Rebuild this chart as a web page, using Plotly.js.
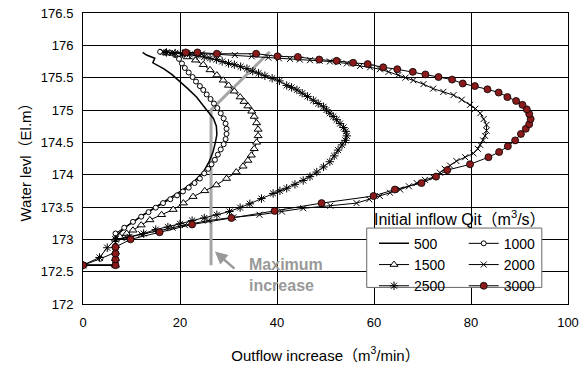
<!DOCTYPE html>
<html>
<head>
<meta charset="utf-8">
<script src="https://cdn.plot.ly/plotly-3.0.1.min.js"></script>
<style>html,body{margin:0;padding:0;background:#fff;}#chart{width:586px;height:367px;}</style>
</head>
<body>
<div id="chart"></div>
<script>
// Initial inflow Qit series (m3/s)
const seriesNames = ['500', '1000', '1500', '2000', '2500', '3000'];

const q500X = [0, 6.7, 6.7, 9.0, 12.0, 15.0, 18.0, 20.5, 23.0, 24.8, 26.0, 26.8, 27.3, 27.6, 27.5, 26.9, 25.5, 23.4, 21.6, 20.0, 18.3, 16.6, 14.4, 14.8, 13.1, 12.3];
const q500Y = [172.6, 172.6, 173.05, 173.2, 173.36, 173.5, 173.64, 173.76, 173.9, 174.04, 174.2, 174.35, 174.5, 174.62, 174.75, 174.87, 175.0, 175.2, 175.33, 175.44, 175.55, 175.64, 175.73, 175.8, 175.85, 175.89];

const q1000X = [0, 3.6, 6.7, 6.7, 6.7, 6.7, 8.5, 10.3, 12.0, 13.5, 15.0, 16.5, 18.0, 19.4, 20.6, 21.8, 23.0, 24.1, 25.0, 25.8, 26.5, 27.2, 27.8, 28.4, 29.0, 29.4, 29.6, 29.6, 29.4, 29.0, 28.4, 27.7, 27.0, 26.3, 25.5, 24.8, 24.1, 23.3, 22.6, 21.8, 21.0, 20.4, 19.8, 19.0, 18.0, 17.0, 15.9];
const q1000Y = [172.6, 172.7, 172.8, 172.9, 173.0, 173.09, 173.18, 173.27, 173.35, 173.42, 173.49, 173.56, 173.62, 173.68, 173.74, 173.8, 173.87, 173.94, 174.02, 174.09, 174.16, 174.23, 174.31, 174.39, 174.47, 174.55, 174.63, 174.71, 174.79, 174.87, 174.95, 175.03, 175.1, 175.17, 175.24, 175.31, 175.37, 175.44, 175.51, 175.58, 175.65, 175.72, 175.79, 175.85, 175.88, 175.89, 175.9];

const q1500X = [0, 6.7, 6.7, 6.7, 6.7, 6.7, 7.6, 9.0, 10.3, 12.0, 13.8, 16.2, 18.6, 20.7, 22.7, 25.1, 27.5, 29.6, 31.6, 33.0, 34.0, 34.7, 35.3, 35.8, 36.1, 36.1, 35.8, 35.3, 34.8, 34.0, 33.2, 32.4, 31.2, 30.0, 28.9, 27.6, 26.2, 24.8, 23.2, 21.5, 19.5, 17.2];
const q1500Y = [172.6, 172.6, 172.7, 172.8, 172.9, 173.0, 173.04, 173.09, 173.14, 173.22, 173.3, 173.38, 173.46, 173.56, 173.66, 173.75, 173.84, 173.94, 174.04, 174.13, 174.22, 174.3, 174.4, 174.5, 174.6, 174.7, 174.8, 174.9, 174.98, 175.06, 175.13, 175.2, 175.29, 175.38, 175.46, 175.54, 175.62, 175.7, 175.77, 175.82, 175.86, 175.88];

const q2000X = [0, 6.7, 6.7, 6.7, 9.0, 12.0, 15.5, 18.5, 21.0, 25.8, 31.0, 36.4, 41.0, 45.4, 51.0, 56.4, 59.0, 61.2, 63.3, 65.4, 67.2, 68.8, 70.5, 72.2, 73.6, 74.6, 75.7, 77.0, 78.8, 80.5, 81.4, 81.9, 82.5, 82.9, 83.2, 83.2, 82.6, 81.9, 80.9, 79.8, 78.1, 76.4, 74.3, 72.2, 70.2, 68.1, 66.5, 65.0, 63.0, 61.2, 59.2, 57.1, 54.4, 52.6, 50.9, 48.8, 46.8, 44.7, 42.7, 40.4, 38.2, 34.8, 31.3, 28.0, 24.5, 21.0, 18.5, 16.5];
const q2000Y = [172.6, 172.6, 172.8, 173.0, 173.02, 173.08, 173.13, 173.18, 173.22, 173.29, 173.34, 173.38, 173.43, 173.48, 173.52, 173.56, 173.62, 173.67, 173.72, 173.77, 173.82, 173.87, 173.92, 173.96, 174.03, 174.09, 174.14, 174.21, 174.27, 174.33, 174.4, 174.46, 174.53, 174.6, 174.68, 174.77, 174.86, 174.95, 175.02, 175.08, 175.16, 175.23, 175.28, 175.33, 175.4, 175.46, 175.5, 175.54, 175.59, 175.63, 175.66, 175.68, 175.72, 175.74, 175.75, 175.76, 175.77, 175.78, 175.79, 175.8, 175.81, 175.83, 175.85, 175.86, 175.87, 175.88, 175.89, 175.9];

const q2500X = [0, 3.4, 5.0, 6.7, 9.6, 12.5, 15.0, 17.5, 20.0, 22.5, 25.0, 27.6, 30.2, 32.4, 34.4, 36.8, 39.2, 40.6, 42.0, 43.7, 45.4, 46.8, 48.2, 49.6, 50.9, 51.8, 52.6, 53.4, 54.1, 54.4, 54.2, 53.7, 53.0, 52.3, 51.6, 50.9, 50.2, 49.6, 48.5, 47.5, 46.3, 45.2, 44.1, 43.0, 42.0, 40.5, 39.0, 37.5, 36.2, 35.0, 33.8, 32.5, 31.2, 30.0, 28.7, 27.5, 26.2, 25.0, 23.5, 22.0, 20.5, 19.0, 17.2];
const q2500Y = [172.6, 172.72, 172.87, 173.0, 173.04, 173.09, 173.15, 173.19, 173.24, 173.29, 173.33, 173.38, 173.43, 173.49, 173.55, 173.63, 173.71, 173.75, 173.79, 173.85, 173.91, 173.97, 174.04, 174.12, 174.2, 174.29, 174.38, 174.46, 174.53, 174.6, 174.67, 174.73, 174.79, 174.85, 174.9, 174.95, 175.0, 175.05, 175.1, 175.15, 175.21, 175.26, 175.31, 175.35, 175.38, 175.45, 175.49, 175.53, 175.57, 175.6, 175.64, 175.67, 175.7, 175.72, 175.75, 175.78, 175.8, 175.82, 175.84, 175.86, 175.87, 175.88, 175.89];

const q3000X = [0, 6.7, 6.7, 6.7, 6.7, 9.8, 15.8, 22.5, 30.6, 39.5, 49.2, 59.9, 64.3, 69.8, 72.8, 75.1, 79.8, 83.6, 85.8, 87.6, 89.1, 90.3, 91.3, 92.0, 92.3, 92.0, 91.5, 90.6, 89.3, 87.5, 85.7, 83.4, 80.8, 78.3, 76.1, 73.3, 70.6, 68.0, 64.8, 61.9, 58.7, 55.7, 52.3, 48.7, 44.3, 40.1, 35.7, 27.6, 23.6, 21.2];
const q3000Y = [172.6, 172.6, 172.69, 172.78, 172.88, 173.0, 173.11, 173.23, 173.33, 173.44, 173.56, 173.67, 173.77, 173.87, 173.97, 174.07, 174.16, 174.27, 174.35, 174.44, 174.53, 174.63, 174.71, 174.78, 174.86, 174.94, 175.01, 175.08, 175.14, 175.2, 175.27, 175.32, 175.37, 175.41, 175.47, 175.51, 175.55, 175.59, 175.63, 175.66, 175.71, 175.73, 175.76, 175.78, 175.82, 175.83, 175.87, 175.87, 175.89, 175.89];

// "Maximum increase" locus
const maxIncX = [26.4, 26.4, 38.5];
const maxIncY = [172.6, 175.0, 175.9];

const xTicks = [0, 20, 40, 60, 80, 100];
const yTicks = [172, 172.5, 173, 173.5, 174, 174.5, 175, 175.5, 176, 176.5];

const FONT = 'Liberation Sans, Arial, Noto Sans CJK JP, sans-serif';

const traces = [
  {x: maxIncX, y: maxIncY, mode: 'lines', line: {color: '#a6a6a6', width: 3}, showlegend: false, hoverinfo: 'skip'},
  {x: q500X, y: q500Y, name: seriesNames[0], mode: 'lines', line: {color: '#000', width: 1.5}, legend: 'legend'},
  {x: q1000X, y: q1000Y, name: seriesNames[1], mode: 'lines+markers', line: {color: '#000', width: 1},
   marker: {symbol: 'circle', size: 5, color: '#fff', line: {color: '#000', width: 1}}, legend: 'legend2'},
  {x: q1500X, y: q1500Y, name: seriesNames[2], mode: 'lines+markers', line: {color: '#000', width: 1},
   marker: {symbol: 'triangle-up', size: 7, color: '#fff', line: {color: '#000', width: 1}}, legend: 'legend'},
  {x: q2000X, y: q2000Y, name: seriesNames[3], mode: 'lines+markers', line: {color: '#000', width: 1},
   marker: {symbol: 'x-thin-open', size: 6, color: '#000', line: {color: '#000', width: 1}}, legend: 'legend2'},
  {x: q2500X, y: q2500Y, name: seriesNames[4], mode: 'lines+markers', line: {color: '#000', width: 1},
   marker: {symbol: 'asterisk-open', size: 7, color: '#000', line: {color: '#000', width: 1}}, legend: 'legend'},
  {x: q3000X, y: q3000Y, name: seriesNames[5], mode: 'lines+markers', line: {color: '#000', width: 1},
   marker: {symbol: 'circle', size: 7, color: '#8b1a1a', line: {color: '#000', width: 0.8}}, legend: 'legend2'}
];

const legendCommon = {
  orientation: 'v', xanchor: 'left', yanchor: 'top', bgcolor: 'rgba(0,0,0,0)',
  borderwidth: 0, font: {family: FONT, size: 14, color: '#000'}, tracegroupgap: 0, itemwidth: 30
};

const layout = {
  width: 586, height: 367,
  margin: {l: 83, r: 18, t: 13, b: 63},
  paper_bgcolor: '#fff', plot_bgcolor: '#fff',
  font: {family: FONT, color: '#000', size: 13},
  xaxis: {
    range: [0, 100], tickvals: xTicks, showgrid: true, gridcolor: '#000', gridwidth: 1,
    zeroline: false, showline: true, linecolor: '#000', linewidth: 1, mirror: true,
    ticks: 'inside', ticklen: 4, tickcolor: '#000', ticklabelstandoff: 6,
    tickfont: {family: FONT, size: 13, color: '#000'},
    title: {text: 'Outflow increase（m<sup>3</sup>/min）', standoff: 21, font: {family: FONT, size: 15, color: '#000'}}
  },
  yaxis: {
    range: [172, 176.5], tickvals: yTicks, showgrid: true, gridcolor: '#000', gridwidth: 1,
    zeroline: false, showline: true, linecolor: '#000', linewidth: 1, mirror: true,
    ticks: 'inside', ticklen: 4, tickcolor: '#000', ticklabelstandoff: 6,
    tickfont: {family: FONT, size: 13, color: '#000'},
    title: {text: 'Water levl（El.m）', standoff: 5, font: {family: FONT, size: 15, color: '#000'}}
  },
  legend: Object.assign({x: 0.6, y: 0.262}, legendCommon),
  legend2: Object.assign({x: 0.785, y: 0.262}, legendCommon),
  shapes: [
    {type: 'rect', xref: 'paper', yref: 'paper', x0: 0.585, x1: 0.946, y0: 0.057, y1: 0.261,
     fillcolor: '#fff', line: {color: '#666', width: 1}, layer: 'above'}
  ],
  annotations: [
    {xref: 'paper', yref: 'paper', x: 0.777, y: 0.296, xanchor: 'center', yanchor: 'middle', showarrow: false,
     text: 'Initial inflow Qit（m<sup>3</sup>/s）', font: {family: FONT, size: 16, color: '#000'}},
    {xref: 'paper', yref: 'paper', x: 0.338, y: 0.101, xanchor: 'left', yanchor: 'middle', align: 'left', showarrow: false,
     text: '<b>Maximum</b><br><b>increase</b>', font: {family: FONT, size: 16, color: '#999'}},
    {xref: 'paper', yref: 'paper', x: 0.272, y: 0.180, ax: 23, ay: 20, showarrow: true, text: ' ',
     arrowcolor: '#999', arrowwidth: 2.5, arrowhead: 2, arrowsize: 1}
  ]
};

Plotly.newPlot('chart', traces, layout, {displayModeBar: false, staticPlot: true});
</script>
</body>
</html>
